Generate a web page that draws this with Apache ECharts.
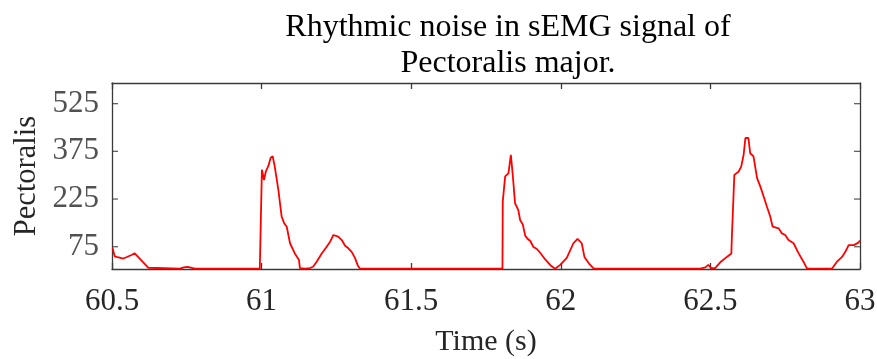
<!DOCTYPE html>
<html>
<head>
<meta charset="utf-8">
<script src="https://cdn.jsdelivr.net/npm/echarts@6/dist/echarts.min.js"></script>
<style>
  html, body { margin: 0; padding: 0; background: #fff; }
  #chart { width: 877px; height: 359px; }
</style>
</head>
<body>
<div id="chart"></div>
<script>
// sEMG envelope of the pectoralis major, time in seconds
const timeS = [
  60.502, 60.509, 60.519, 60.537, 60.548, 60.565, 60.576, 60.587, 60.599, 60.610,
  60.621, 60.626, 60.727, 60.740, 60.753, 60.770, 60.780, 60.994, 60.996, 61.001,
  61.008, 61.014, 61.023, 61.030, 61.037, 61.044, 61.056, 61.067, 61.075, 61.084,
  61.095, 61.111, 61.125, 61.128, 61.145, 61.162, 61.172, 61.184, 61.201, 61.215,
  61.229, 61.240, 61.256, 61.268, 61.279, 61.290, 61.301, 61.312, 61.322, 61.329,
  61.805, 61.806, 61.814, 61.825, 61.833, 61.839, 61.847, 61.858, 61.864, 61.873,
  61.881, 61.888, 61.898, 61.908, 61.920, 61.931, 61.948, 61.965, 61.981, 61.998,
  62.020, 62.042, 62.056, 62.062, 62.070, 62.079, 62.096, 62.110, 62.466, 62.483,
  62.493, 62.503, 62.516, 62.535, 62.555, 62.570, 62.572, 62.580, 62.594, 62.603,
  62.611, 62.617, 62.627, 62.633, 62.644, 62.656, 62.667, 62.678, 62.689, 62.700,
  62.708, 62.728, 62.739, 62.750, 62.761, 62.778, 62.795, 62.811, 62.823, 62.906,
  62.923, 62.940, 62.951, 62.962, 62.979, 62.995, 63.000
];
const pectoralis = [
  70, 45, 42, 38, 42, 49, 54, 43, 31, 20,
  9, 6, 6, 10, 12, 8, 6, 6, 95, 317,
  285, 311, 330, 354, 360, 327, 254, 170, 150, 138,
  86, 54, 33, 8, 6, 8, 12, 28, 54, 72,
  91, 112, 107, 96, 78, 70, 59, 40, 15, 6,
  6, 217, 296, 306, 364, 306, 212, 190, 159, 145,
  110, 101, 93, 75, 68, 56, 35, 17, 6, 18,
  40, 86, 100, 95, 86, 43, 20, 6, 6, 10,
  18, 8, 8, 28, 43, 54, 112, 301, 311, 327,
  364, 417, 417, 369, 359, 291, 264, 233, 201, 170,
  138, 133, 117, 112, 96, 86, 54, 28, 6, 6,
  28, 43, 59, 80, 80, 88, 95
];
const xTicks = [60.5, 61, 61.5, 62, 62.5, 63];
const yTicks = [75, 225, 375, 525];
const titleText = 'Rhythmic noise in sEMG signal of\nPectoralis major.';

const serif = '"Liberation Serif", "Times New Roman", serif';
const ink = '#262626';
const frame = '#3a3a3a';

const points = timeS.map((t, i) => [t, pectoralis[i]]);

const chart = echarts.init(document.getElementById('chart'), null, { renderer: 'canvas' });

const baseAxisLine = { show: true, lineStyle: { color: frame, width: 1.3 } };
const tickStyle = { show: true, inside: true, length: 6, lineStyle: { color: frame, width: 1.3 } };

chart.setOption({
  animation: false,
  backgroundColor: '#fff',
  title: {
    text: titleText,
    left: 503,
    top: 5,
    textAlign: 'center',
    textStyle: {
      fontFamily: serif,
      fontWeight: 'normal',
      fontSize: 32,
      lineHeight: 36,
      color: '#000'
    }
  },
  grid: { left: 112, right: 17, top: 83, bottom: 90, containLabel: false, outerBoundsMode: 'none' },
  xAxis: [
    {
      type: 'value',
      min: 60.5,
      max: 63,
      interval: 0.5,
      name: 'Time (s)',
      nameLocation: 'middle',
      nameGap: 58,
      nameTextStyle: { fontFamily: serif, fontSize: 30, color: ink },
      axisLine: baseAxisLine,
      axisTick: tickStyle,
      splitLine: { show: false },
      axisLabel: {
        fontFamily: serif, fontSize: 31, color: ink, margin: 17,
        formatter: v => (xTicks.includes(+v.toFixed(1)) ? String(+v.toFixed(1)) : '')
      }
    },
    {
      type: 'value',
      position: 'top',
      min: 60.5,
      max: 63,
      interval: 0.5,
      axisLine: baseAxisLine,
      axisTick: tickStyle,
      axisLabel: { show: false },
      splitLine: { show: false }
    }
  ],
  yAxis: [
    {
      type: 'value',
      min: 5,
      max: 590,
      name: 'Pectoralis',
      nameLocation: 'middle',
      nameGap: 70,
      nameTextStyle: { fontFamily: serif, fontSize: 30.5, color: ink },
      axisLine: baseAxisLine,
      axisTick: { show: false },
      splitLine: { show: false },
      axisLabel: { show: false }
    },
    {
      type: 'value',
      position: 'right',
      min: 5,
      max: 590,
      axisLine: baseAxisLine,
      axisTick: { show: false },
      splitLine: { show: false },
      axisLabel: { show: false }
    }
  ],
  series: [
    {
      type: 'line',
      xAxisIndex: 0,
      yAxisIndex: 0,
      data: points,
      showSymbol: false,
      lineStyle: { color: '#ff0000', width: 1.8 },
      z: 5
    },
    // y ticks on both sides, placed at the labelled values
    {
      type: 'scatter',
      xAxisIndex: 0,
      yAxisIndex: 0,
      silent: true,
      data: yTicks.map(v => [60.5, v]),
      symbol: 'rect',
      symbolSize: [6, 1.3],
      symbolOffset: [3, 0],
      itemStyle: { color: frame },
      label: {
        show: true,
        position: 'left',
        distance: 13,
        formatter: p => String(p.value[1]),
        fontFamily: serif,
        fontSize: 31,
        color: ink
      },
      z: 6
    },
    {
      type: 'scatter',
      xAxisIndex: 0,
      yAxisIndex: 0,
      silent: true,
      data: yTicks.map(v => [63, v]),
      symbol: 'rect',
      symbolSize: [6, 1.3],
      symbolOffset: [-3, 0],
      itemStyle: { color: frame },
      z: 6
    }
  ]
});
</script>
</body>
</html>
